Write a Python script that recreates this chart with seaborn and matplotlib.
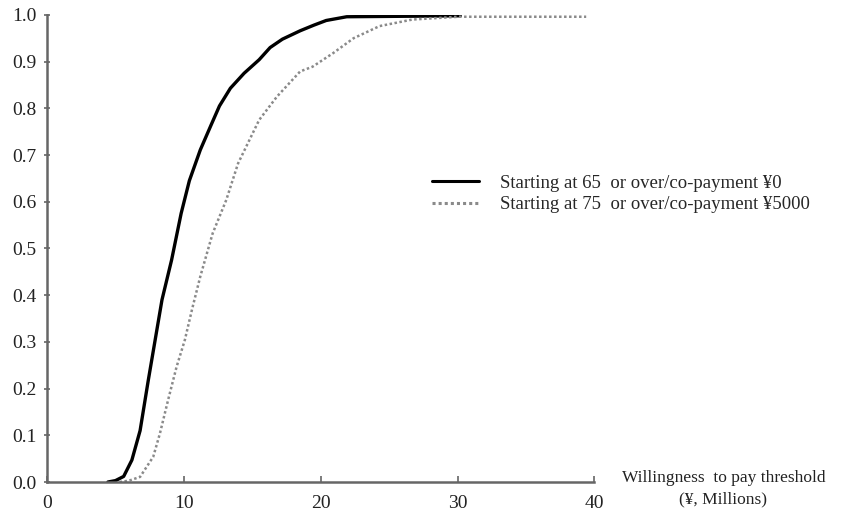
import pandas as pd
import seaborn as sns
import matplotlib.pyplot as plt

# values
x65 = [4.45, 5.0, 5.6, 6.2, 6.8, 7.4, 7.9, 8.4, 9.1, 9.8, 10.4, 11.2, 12.0, 12.6,
       13.4, 14.4, 15.5, 16.3, 17.2, 18.5, 19.5, 20.4, 21.9, 30.2]
y65 = [0.0, 0.003, 0.012, 0.047, 0.11, 0.218, 0.304, 0.39, 0.475, 0.575, 0.645, 0.711,
       0.765, 0.805, 0.843, 0.875, 0.904, 0.93, 0.948, 0.966, 0.978, 0.988, 0.996, 0.998]

x75 = [5.3, 6.0, 6.8, 7.76, 8.25, 8.85, 9.47, 10.07, 10.6, 11.2, 12.1, 13.1, 13.96,
       15.5, 16.8, 18.5, 19.4, 20.9, 22.4, 24.3, 26.7, 30.1, 39.4]
y75 = [0.0, 0.003, 0.011, 0.054, 0.104, 0.176, 0.247, 0.304, 0.37, 0.44, 0.532, 0.604,
       0.682, 0.775, 0.825, 0.879, 0.889, 0.918, 0.95, 0.976, 0.99, 0.996, 0.996]

lab65 = 'Starting at 65  or over/co-payment ¥0'
lab75 = 'Starting at 75  or over/co-payment ¥5000'

df = pd.concat([
    pd.DataFrame({'wtp': x65, 'share': y65, 'series': lab65}),
    pd.DataFrame({'wtp': x75, 'share': y75, 'series': lab75}),
], ignore_index=True)

sns.set_style('ticks')
plt.rcParams['font.family'] = ['Liberation Serif', 'DejaVu Serif']

fig = plt.figure(figsize=(8.46, 5.13), dpi=100)
ax = fig.add_axes([0.0556, 0.0604, 0.647, 0.9106])

sns.lineplot(data=df, x='wtp', y='share', hue='series', style='series',
             palette={lab65: 'black', lab75: '#8a8a8a'},
             dashes={lab65: '', lab75: (1, 1)},
             estimator=None, sort=False, ax=ax, linewidth=2.2)
# thinner dotted line
ax.lines[1].set_linewidth(1.8)
ax.lines[0].set_linewidth(2.4)

ax.set_xlim(0, 40)
ax.set_ylim(0, 1.0)
ax.set_xticks([0, 10, 20, 30, 40])
ax.set_yticks([i / 10 for i in range(11)])
ax.set_yticklabels([f'{i / 10:.1f}' for i in range(11)])
ax.set_xlabel('')
ax.set_ylabel('')

for s in ['top', 'right']:
    ax.spines[s].set_visible(False)
for s in ['left', 'bottom']:
    ax.spines[s].set_color('#666666')
    ax.spines[s].set_linewidth(1.8)

ax.tick_params(axis='x', direction='in', length=4, width=1.2, color='#666666',
               labelsize=14, labelcolor='#222222', pad=9)
ax.tick_params(axis='y', direction='inout', length=5, width=1.2, color='#666666',
               labelsize=14, labelcolor='#222222', pad=5)

handles, labels = ax.get_legend_handles_labels()
ax.legend(handles, labels, loc='upper left', bbox_to_anchor=(0.511, 0.66),
          bbox_transform=fig.transFigure, frameon=False, fontsize=13.5,
          handlelength=2.5, handletextpad=1.1, labelspacing=0.25,
          borderpad=0, borderaxespad=0)

fig.text(0.855, 0.047, 'Willingness  to pay threshold\n(¥, Millions)',
         ha='center', va='center', fontsize=12.5, color='#222222', linespacing=1.45)

fig.savefig('out.png', dpi=100)
